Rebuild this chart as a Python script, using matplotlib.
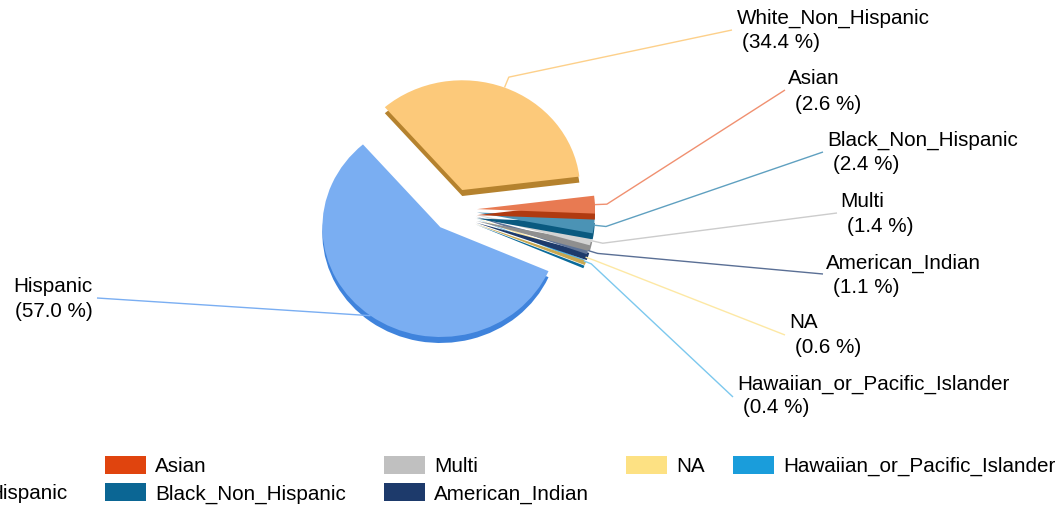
import numpy as np
import matplotlib
matplotlib.use("Agg")
import matplotlib.pyplot as plt
from matplotlib.patches import Rectangle

# ---- data ----
categories = ["White_Non_Hispanic", "Asian", "Black_Non_Hispanic", "Multi",
              "American_Indian", "NA", "Hawaiian_or_Pacific_Islander", "Hispanic"]
values = [34.4, 2.6, 2.4, 1.4, 1.1, 0.6, 0.4, 57.0]
pct_labels = ["(34.4 %)", "(2.6 %)", "(2.4 %)", "(1.4 %)", "(1.1 %)", "(0.6 %)", "(0.4 %)", "(57.0 %)"]

legend_colors = ["#fcc56e", "#e0440e", "#0b6694", "#c0c0c0", "#1d3a6b", "#fde183", "#1a9ddb", "#4a8fe8"]
top_colors = ["#fcc97a", "#e87a52", "#4b93b5", "#d3d3d3", "#5e7498", "#fde8a4", "#52b4e6", "#7aaef2"]
side_colors = ["#b5822e", "#b03a10", "#0a5a80", "#8f8f8f", "#1d3a6b", "#c9a850", "#0a6a9a", "#3f83dc"]
line_colors = ["#fdd08a", "#f09070", "#5fa0c0", "#cccccc", "#5a6f95", "#fde8a4", "#7cc8ee", "#7aaef2"]

W, H = 1061, 505
FONT = "Liberation Sans"
FS = 14.9
SQ = 0.93  # vertical squash of the tilted pie

fig = plt.figure(figsize=(W / 100, H / 100), dpi=100)
ax_pie = fig.add_axes([0, 0, 1, 1])
ax = fig.add_axes([0, 0, 1, 1])
ax.patch.set_alpha(0)

def Y(y):
    return H - y

center = (454, Y(210) / SQ)
radius = 118
depth = 6 / SQ
explode = [23] * len(values)   # data units

side_w, _ = ax_pie.pie(values, colors=side_colors, startangle=131, counterclock=False,
                       explode=explode, center=(center[0], center[1] - depth), radius=radius,
                       wedgeprops=dict(linewidth=0))
top_w, _ = ax_pie.pie(values, colors=top_colors, startangle=131, counterclock=False,
                      explode=explode, center=center, radius=radius,
                      wedgeprops=dict(linewidth=0))

# drawing order: Hispanic, then small slices bottom-up, then White
rank = {7: 0, 6: 1, 5: 2, 4: 3, 3: 4, 2: 5, 1: 6, 0: 7}
for i in range(len(values)):
    side_w[i].set_zorder(1 + 2 * rank[i])
    top_w[i].set_zorder(2 + 2 * rank[i])

ax_pie.set_xlim(0, W)
ax_pie.set_ylim(0, H / SQ)
ax_pie.set_aspect("auto")
ax_pie.axis("off")

ax.set_xlim(0, W)
ax.set_ylim(0, H)
ax.axis("off")

def to_px(pt):
    disp = ax_pie.transData.transform(pt)
    return ax.transData.inverted().transform(disp)

# ---- labels with leader lines ----
label_x1 = [737, 788, 827, 840, 826, 789, 737, 13]
label_x2 = [742, 795, 833, 847, 833, 795, 743, 15]
label_b1 = [23.5, 84.5, 146, 206.7, 268.3, 328.3, 390, 291.7]
label_b2 = [47.5, 110, 170, 231.7, 292.7, 353.3, 413.3, 316.7]
anchor = [(732, 30), (785, 90), (823, 152), (837, 213), (823, 274), (785, 335), (733, 397), (97, 298)]
ext = [12, 12, 12, 12, 10, 9, 8, 0]

for i, w in enumerate(top_w):
    mid = np.deg2rad((w.theta1 + w.theta2) / 2)
    cx, cy = w.center
    p0 = to_px((cx + w.r * np.cos(mid), cy + w.r * np.sin(mid)))
    p1 = to_px((cx + (w.r + ext[i]) * np.cos(mid), cy + (w.r + ext[i]) * np.sin(mid)))
    ax.plot([p0[0], p1[0], anchor[i][0]], [p0[1], p1[1], Y(anchor[i][1])],
            color=line_colors[i], lw=1, zorder=30, solid_capstyle="butt")
    ax.text(label_x1[i], Y(label_b1[i]), categories[i], fontsize=FS, family=FONT,
            ha="left", va="baseline", color="#000000", zorder=40)
    ax.text(label_x2[i], Y(label_b2[i]), pct_labels[i], fontsize=FS, family=FONT,
            ha="left", va="baseline", color="#000000", zorder=40)

# ---- legend (partly cut off at the left edge, as in the reference) ----
leg_items = [1, 2, 3, 4, 5, 6, 7]
leg_sx = {1: 105, 2: 105, 3: 384, 4: 384, 5: 626, 6: 733, 7: None}
leg_row = {1: 0, 2: 1, 3: 0, 4: 1, 5: 0, 6: 0, 7: 1}
row_top = [456, 483]
row_base = [471.7, 499.3]
for i in leg_items:
    r = leg_row[i]
    if i == 7:
        ax.text(68, Y(row_base[r]), categories[i], fontsize=FS, family=FONT,
                ha="right", va="baseline", color="#000000")
        continue
    sx = leg_sx[i]
    ax.add_patch(Rectangle((sx, Y(row_top[r] + 18)), 41, 18, facecolor=legend_colors[i],
                           edgecolor="none"))
    ax.text(sx + 50, Y(row_base[r]), categories[i], fontsize=FS, family=FONT,
            ha="left", va="baseline", color="#000000")

fig.savefig("out.png", dpi=100)
